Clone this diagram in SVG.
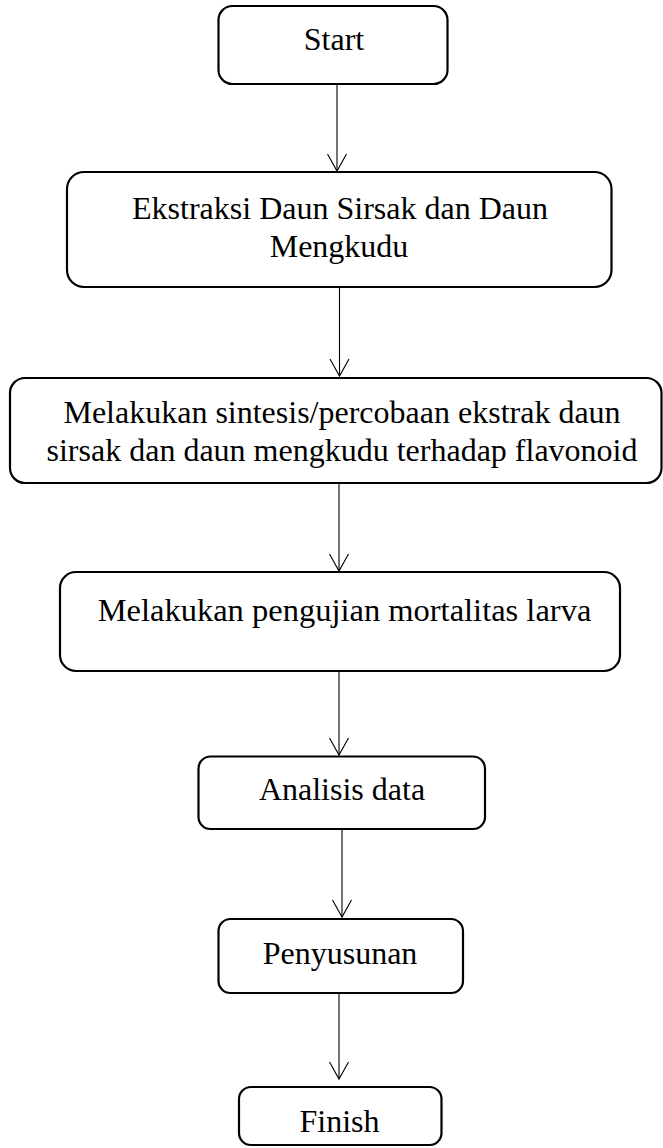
<svg xmlns="http://www.w3.org/2000/svg" width="663" height="1148" viewBox="0 0 663 1148">
  <style>
    .box { fill: #ffffff; stroke: #000000; stroke-width: 2.2; }
    .lbl { font-family: "Liberation Serif", "Times New Roman", serif; font-size: 32px; fill: #000000; text-anchor: middle; }
    .edge { stroke: #000000; stroke-width: 1.1; fill: none; marker-end: url(#arrow); }
  </style>
  <defs>
    <marker id="arrow" viewBox="-20 -12 24 24" markerWidth="24" markerHeight="24" refX="0" refY="0" orient="auto" markerUnits="userSpaceOnUse">
      <path d="M -17,-9.5 L 0,0 L -17,9.5" fill="none" stroke="#000000" stroke-width="1.1"/>
    </marker>
  </defs>
  <rect width="663" height="1148" fill="#ffffff"/>

  <g id="connectors">
    <line class="edge" x1="337" y1="84" x2="337" y2="171"/>
    <line class="edge" x1="339.5" y1="287" x2="339.5" y2="376"/>
    <line class="edge" x1="339" y1="483" x2="339" y2="571"/>
    <line class="edge" x1="339" y1="671" x2="339" y2="755"/>
    <line class="edge" x1="342" y1="829" x2="342" y2="917"/>
    <line class="edge" x1="339" y1="993" x2="339" y2="1079"/>
  </g>

  <g id="start">
    <rect class="box" x="218.5" y="6" width="229" height="78" rx="14" ry="14"/>
    <text class="lbl" x="334" y="50">Start</text>
  </g>
  <g id="ekstraksi">
    <rect class="box" x="67" y="172" width="544.5" height="115" rx="17" ry="17"/>
    <text class="lbl" x="340" y="218.5">Ekstraksi Daun Sirsak dan Daun</text>
    <text class="lbl" x="339" y="257">Mengkudu</text>
  </g>
  <g id="sintesis">
    <rect class="box" x="10" y="378" width="651.5" height="105" rx="15" ry="15"/>
    <text class="lbl" x="342" y="423">Melakukan sintesis/percobaan ekstrak daun</text>
    <text class="lbl" x="342" y="461">sirsak dan daun mengkudu terhadap flavonoid</text>
  </g>
  <g id="pengujian">
    <rect class="box" x="60" y="572" width="560" height="99" rx="16" ry="16"/>
    <text class="lbl" x="344.5" y="621" style="font-size:32.5px">Melakukan pengujian mortalitas larva</text>
  </g>
  <g id="analisis">
    <rect class="box" x="198.5" y="756.5" width="286.5" height="72.5" rx="12" ry="12"/>
    <text class="lbl" x="342" y="800">Analisis data</text>
  </g>
  <g id="penyusunan">
    <rect class="box" x="218.5" y="919" width="244.5" height="74" rx="12" ry="12"/>
    <text class="lbl" x="340" y="964">Penyusunan</text>
  </g>
  <g id="finish">
    <rect class="box" x="239" y="1087" width="202.5" height="58" rx="12" ry="12"/>
    <text class="lbl" x="339.5" y="1132">Finish</text>
  </g>
</svg>
